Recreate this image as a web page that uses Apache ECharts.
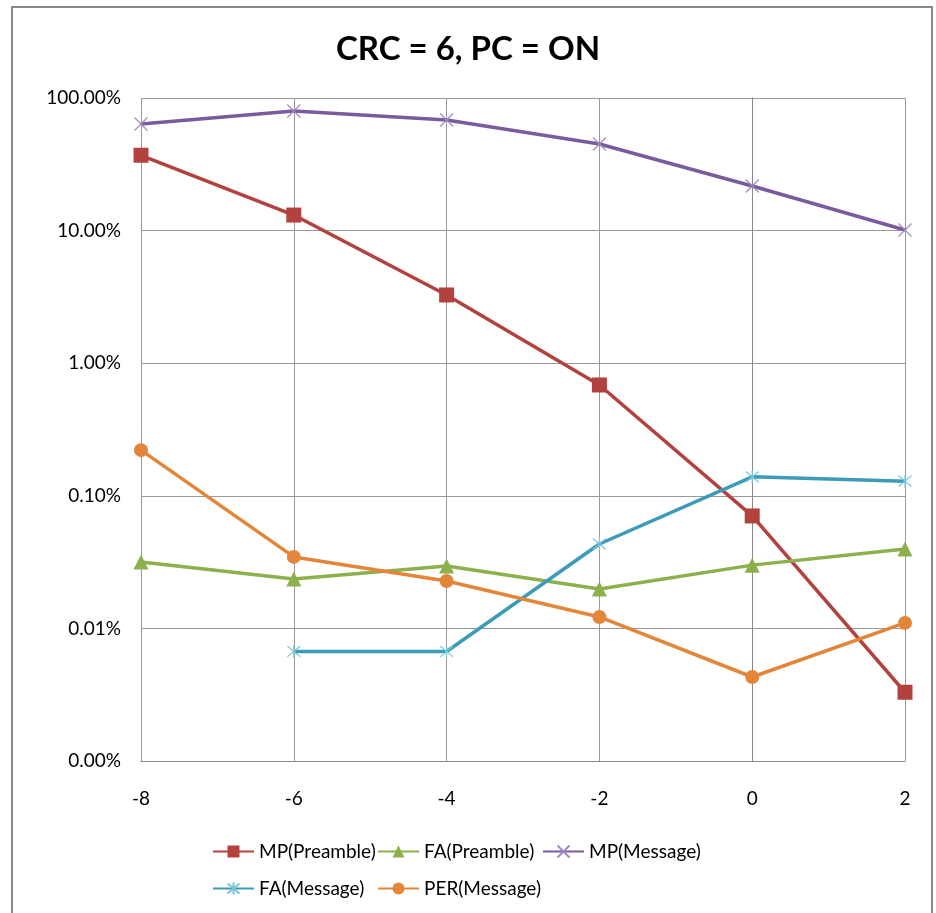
<!DOCTYPE html>
<html><head><meta charset="utf-8">
<script src="https://cdn.jsdelivr.net/npm/echarts@6/dist/echarts.min.js"></script>
<style>html,body{margin:0;padding:0;background:#fff}#c{width:936px;height:913px}</style>
</head><body><div id="c"></div>
<script>
var xValues = [-8, -6, -4, -2, 0, 2];
var mpPreamble = [0.37, 0.131, 0.0327, 0.00685, 0.000705, 0.000033];
var faPreamble = [0.000317, 0.000236, 0.000296, 0.000198, 0.000300, 0.000397];
var mpMessage = [0.637, 0.798, 0.682, 0.450, 0.217, 0.101];
var faMessage = [null, 0.000067, 0.000067, 0.000433, 0.00139, 0.00129];
var perMessage = [0.00221, 0.000346, 0.000228, 0.000122, 0.000043, 0.00011];
var yTicks = [0.00001, 0.0001, 0.001, 0.01, 0.1, 1];
var seriesNames = ['MP(Preamble)', 'FA(Preamble)', 'MP(Message)', 'FA(Message)', 'PER(Message)'];

function pairs(arr){ var o=[]; arr.forEach(function(v,i){ if(v!==null) o.push([xValues[i], v]); }); return o; }
var FONT = 'Lato, "Open Sans", sans-serif';
var crossPath = 'path://M0,0L10,10M10,0L0,10';
var starPath = 'path://M0,0L10,10M10,0L0,10M5,-1L5,11';

function mk(name, data, color, symbol, size, border){
  return {
    name: name, type: 'line', data: pairs(data), symbol: symbol, symbolSize: size,
    lineStyle: {color: color, width: 3.5},
    itemStyle: border ? {color: color, borderColor: border, borderWidth: 1.2} : {color: color},
    emphasis: {disabled: true}, animation: false, connectNulls: false
  };
}
var legendPos = [[207, 837], [372, 837], [537, 837], [207, 874], [372, 874]];
var legends = seriesNames.map(function(n, i){
  return {data: [n], left: legendPos[i][0], top: legendPos[i][1], itemWidth: 41, itemHeight: 15,
    textStyle: {fontFamily: FONT, fontSize: 19, color: '#000'}};
});

var chart = echarts.init(document.getElementById('c'));
chart.setOption({
  animation: false,
  title: {text: 'CRC = 6, PC = ON', left: 'center', top: 28,
    textStyle: {fontFamily: FONT, fontSize: 33, fontWeight: 'bold', color: '#000'}},
  graphic: [{type: 'rect', shape: {x: 12, y: 7, width: 920, height: 920},
    style: {fill: 'none', stroke: '#888', lineWidth: 2}, silent: true}],
  grid: {left: 141, top: 98, width: 764, height: 663, containLabel: false},
  xAxis: {type: 'value', min: -8, max: 2, interval: 2,
    axisLine: {show: true, lineStyle: {color: '#888', width: 1}},
    axisTick: {show: false},
    splitLine: {show: true, lineStyle: {color: '#999', width: 1}},
    axisLabel: {fontFamily: FONT, fontSize: 19, color: '#000', margin: 28}},
  yAxis: {type: 'log', logBase: 10, min: yTicks[0], max: yTicks[yTicks.length-1],
    axisLine: {show: true, lineStyle: {color: '#888', width: 1}},
    axisTick: {show: false},
    splitLine: {show: true, lineStyle: {color: '#999', width: 1}},
    axisLabel: {fontFamily: FONT, fontSize: 19, color: '#000', margin: 20,
      formatter: function(v){ return (v*100).toFixed(2) + '%'; }}},
  legend: legends,
  series: [
    mk(seriesNames[0], mpPreamble, '#B3423F', 'rect', 15),
    mk(seriesNames[1], faPreamble, '#8CB04B', 'triangle', 15),
    mk(seriesNames[2], mpMessage, '#7A5C9E', crossPath, 13, '#A08BC2'),
    mk(seriesNames[3], faMessage, '#3C9BB6', starPath, 13, '#7CC6DA'),
    mk(seriesNames[4], perMessage, '#E4863A', 'circle', 14)
  ]
});
</script></body></html>
